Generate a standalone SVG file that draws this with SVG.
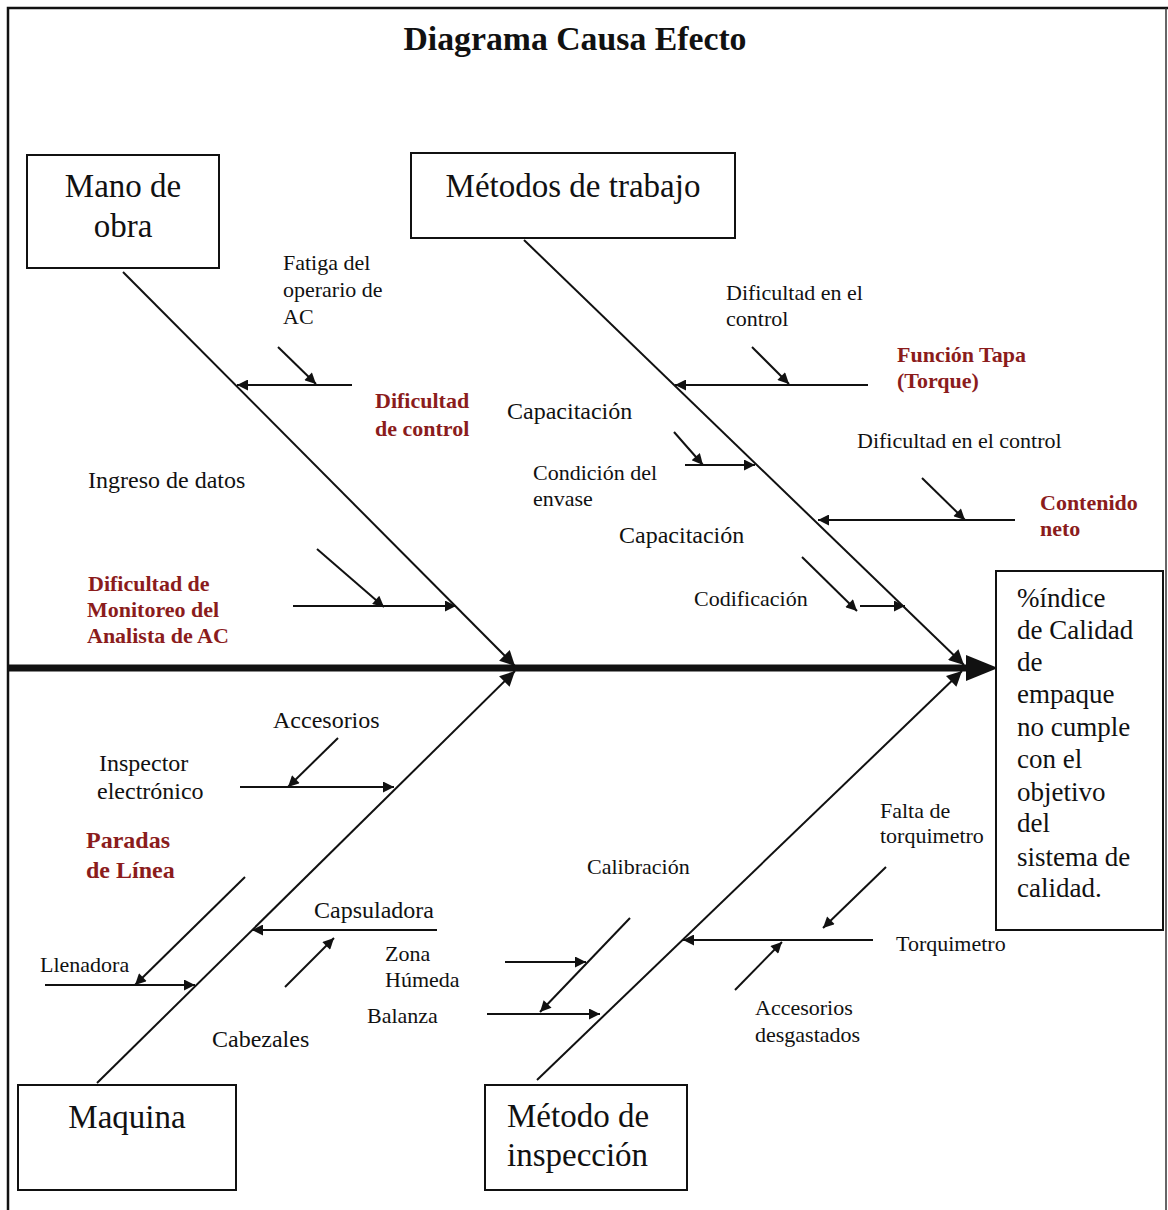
<svg xmlns="http://www.w3.org/2000/svg" width="1168" height="1210" viewBox="0 0 1168 1210">
<style>
text{font-family:"Liberation Serif","Times New Roman",serif;fill:#111}
.box{fill:#fff;stroke:#111;stroke-width:2}
.big{font-size:33px}
.eff{font-size:27px}
.lbl{font-size:22px}
.lbl24{font-size:24px}
.red{font-size:22px;font-weight:bold;fill:#8b1c1c}
.red24{font-size:24px;font-weight:bold;fill:#8b1c1c}
.bone{stroke:#111;stroke-width:2;fill:none}
.sub{stroke:#111;stroke-width:2;fill:none;marker-end:url(#ah)}
</style>
<defs>
<marker id="ah" viewBox="0 0 10 10" refX="10" refY="5" markerWidth="15" markerHeight="11" markerUnits="userSpaceOnUse" orient="auto">
<path d="M0,0 L10,5 L0,10 z" fill="#111"/>
</marker>
<marker id="ahb" viewBox="0 0 10 10" refX="10" refY="5" markerWidth="20" markerHeight="15" markerUnits="userSpaceOnUse" orient="auto">
<path d="M0,0 L10,5 L0,10 z" fill="#111"/>
</marker>
</defs>
<rect width="1168" height="1210" fill="#fff"/>
<path d="M8,1210 L8,8 L1168,8" fill="none" stroke="#111" stroke-width="2.5"/>
<line x1="1166" y1="8" x2="1166" y2="1210" stroke="#333" stroke-width="1.5"/>
<text x="575" y="50" text-anchor="middle" font-size="33" font-weight="bold" textLength="343" lengthAdjust="spacingAndGlyphs">Diagrama Causa Efecto</text>

<g id="connectors">
<line x1="8" y1="668" x2="970" y2="668" stroke="#111" stroke-width="7"/>
<polygon points="998,668 966,655 966,681" fill="#111"/>
<line class="bone" x1="123" y1="272" x2="515" y2="666" marker-end="url(#ahb)"/>
<line class="bone" x1="524" y1="240" x2="964" y2="665" marker-end="url(#ahb)"/>
<line class="bone" x1="97" y1="1083" x2="515" y2="671" marker-end="url(#ahb)"/>
<line class="bone" x1="537" y1="1080" x2="962" y2="671" marker-end="url(#ahb)"/>
<line class="sub" x1="352" y1="385" x2="237" y2="385"/>
<line class="sub" x1="278" y1="347" x2="316" y2="384"/>
<line class="sub" x1="317" y1="549" x2="384" y2="607"/>
<line class="sub" x1="293" y1="606" x2="456" y2="606"/>
<line class="sub" x1="868" y1="385" x2="675" y2="385"/>
<line class="sub" x1="752" y1="347" x2="789" y2="384"/>
<line class="sub" x1="674" y1="432" x2="703" y2="465"/>
<line class="sub" x1="685" y1="465" x2="755" y2="465"/>
<line class="sub" x1="922" y1="478" x2="965" y2="520"/>
<line class="sub" x1="1015" y1="520" x2="818" y2="520"/>
<line class="sub" x1="802" y1="557" x2="857" y2="611"/>
<line class="sub" x1="860" y1="606" x2="905" y2="606"/>
<line class="sub" x1="338" y1="738" x2="288" y2="787"/>
<line class="sub" x1="240" y1="787" x2="394" y2="787"/>
<line class="sub" x1="245" y1="877" x2="135" y2="985"/>
<line class="sub" x1="45" y1="985" x2="195" y2="985"/>
<line class="sub" x1="437" y1="930" x2="252" y2="930"/>
<line class="sub" x1="285" y1="987" x2="334" y2="938"/>
<line class="sub" x1="630" y1="918" x2="540" y2="1012"/>
<line class="sub" x1="505" y1="962" x2="586" y2="962"/>
<line class="sub" x1="487" y1="1014" x2="600" y2="1014"/>
<line class="sub" x1="873" y1="940" x2="683" y2="940"/>
<line class="sub" x1="886" y1="867" x2="823" y2="928"/>
<line class="sub" x1="735" y1="990" x2="782" y2="942"/>
</g>

<g id="mano-de-obra">
<rect class="box" x="27" y="155" width="192" height="113"/>
<text class="big" x="123" y="197" text-anchor="middle">Mano de</text>
<text class="big" x="123" y="237" text-anchor="middle">obra</text>
</g>
<g id="metodos-de-trabajo">
<rect class="box" x="411" y="153" width="324" height="85"/>
<text class="big" x="573" y="197" text-anchor="middle">Métodos de trabajo</text>
</g>
<g id="maquina">
<rect class="box" x="18" y="1085" width="218" height="105"/>
<text class="big" x="127" y="1128" text-anchor="middle">Maquina</text>
</g>
<g id="metodo-de-inspeccion">
<rect class="box" x="485" y="1085" width="202" height="105"/>
<text class="big" x="507" y="1127">Método de</text>
<text class="big" x="507" y="1166">inspección</text>
</g>
<g id="efecto">
<rect class="box" x="996" y="571" width="167" height="359"/>
<text class="eff" x="1017" y="607">%índice</text>
<text class="eff" x="1017" y="639">de Calidad</text>
<text class="eff" x="1017" y="671">de</text>
<text class="eff" x="1017" y="703">empaque</text>
<text class="eff" x="1017" y="736">no cumple</text>
<text class="eff" x="1017" y="768">con el</text>
<text class="eff" x="1017" y="801">objetivo</text>
<text class="eff" x="1017" y="832">del</text>
<text class="eff" x="1017" y="866">sistema de</text>
<text class="eff" x="1017" y="897">calidad.</text>
</g>

<g id="labels-mano-de-obra">
<text class="lbl" x="283" y="270">Fatiga del</text>
<text class="lbl" x="283" y="297">operario de</text>
<text class="lbl" x="283" y="324">AC</text>
<text class="red" x="375" y="408">Dificultad</text>
<text class="red" x="375" y="436">de control</text>
<text class="lbl24" x="88" y="488">Ingreso de datos</text>
<text class="red" x="88" y="591">Dificultad de</text>
<text class="red" x="87" y="617">Monitoreo del</text>
<text class="red" x="87" y="643">Analista de AC</text>
</g>
<g id="labels-metodos">
<text class="lbl" x="726" y="300">Dificultad en el</text>
<text class="lbl" x="726" y="326">control</text>
<text class="red" x="897" y="362">Función Tapa</text>
<text class="red" x="897" y="388">(Torque)</text>
<text class="lbl24" x="507" y="419">Capacitación</text>
<text class="lbl" x="857" y="448">Dificultad en el control</text>
<text class="lbl" x="533" y="480">Condición del</text>
<text class="lbl" x="533" y="506">envase</text>
<text class="red" x="1040" y="510">Contenido</text>
<text class="red" x="1040" y="536">neto</text>
<text class="lbl24" x="619" y="543">Capacitación</text>
<text class="lbl" x="694" y="606">Codificación</text>
</g>
<g id="labels-maquina">
<text class="lbl24" x="273" y="728">Accesorios</text>
<text class="lbl24" x="99" y="771">Inspector</text>
<text class="lbl24" x="97" y="799">electrónico</text>
<text class="red24" x="86" y="848">Paradas</text>
<text class="red24" x="86" y="878">de Línea</text>
<text class="lbl24" x="314" y="918">Capsuladora</text>
<text class="lbl" x="40" y="972">Llenadora</text>
<text class="lbl" x="385" y="961">Zona</text>
<text class="lbl" x="385" y="987">Húmeda</text>
<text class="lbl" x="367" y="1023">Balanza</text>
<text class="lbl24" x="212" y="1047">Cabezales</text>
</g>
<g id="labels-inspeccion">
<text class="lbl" x="587" y="874">Calibración</text>
<text class="lbl" x="880" y="818">Falta de</text>
<text class="lbl" x="880" y="843">torquimetro</text>
<text class="lbl" x="896" y="951">Torquimetro</text>
<text class="lbl" x="755" y="1015">Accesorios</text>
<text class="lbl" x="755" y="1042">desgastados</text>
</g>
</svg>
